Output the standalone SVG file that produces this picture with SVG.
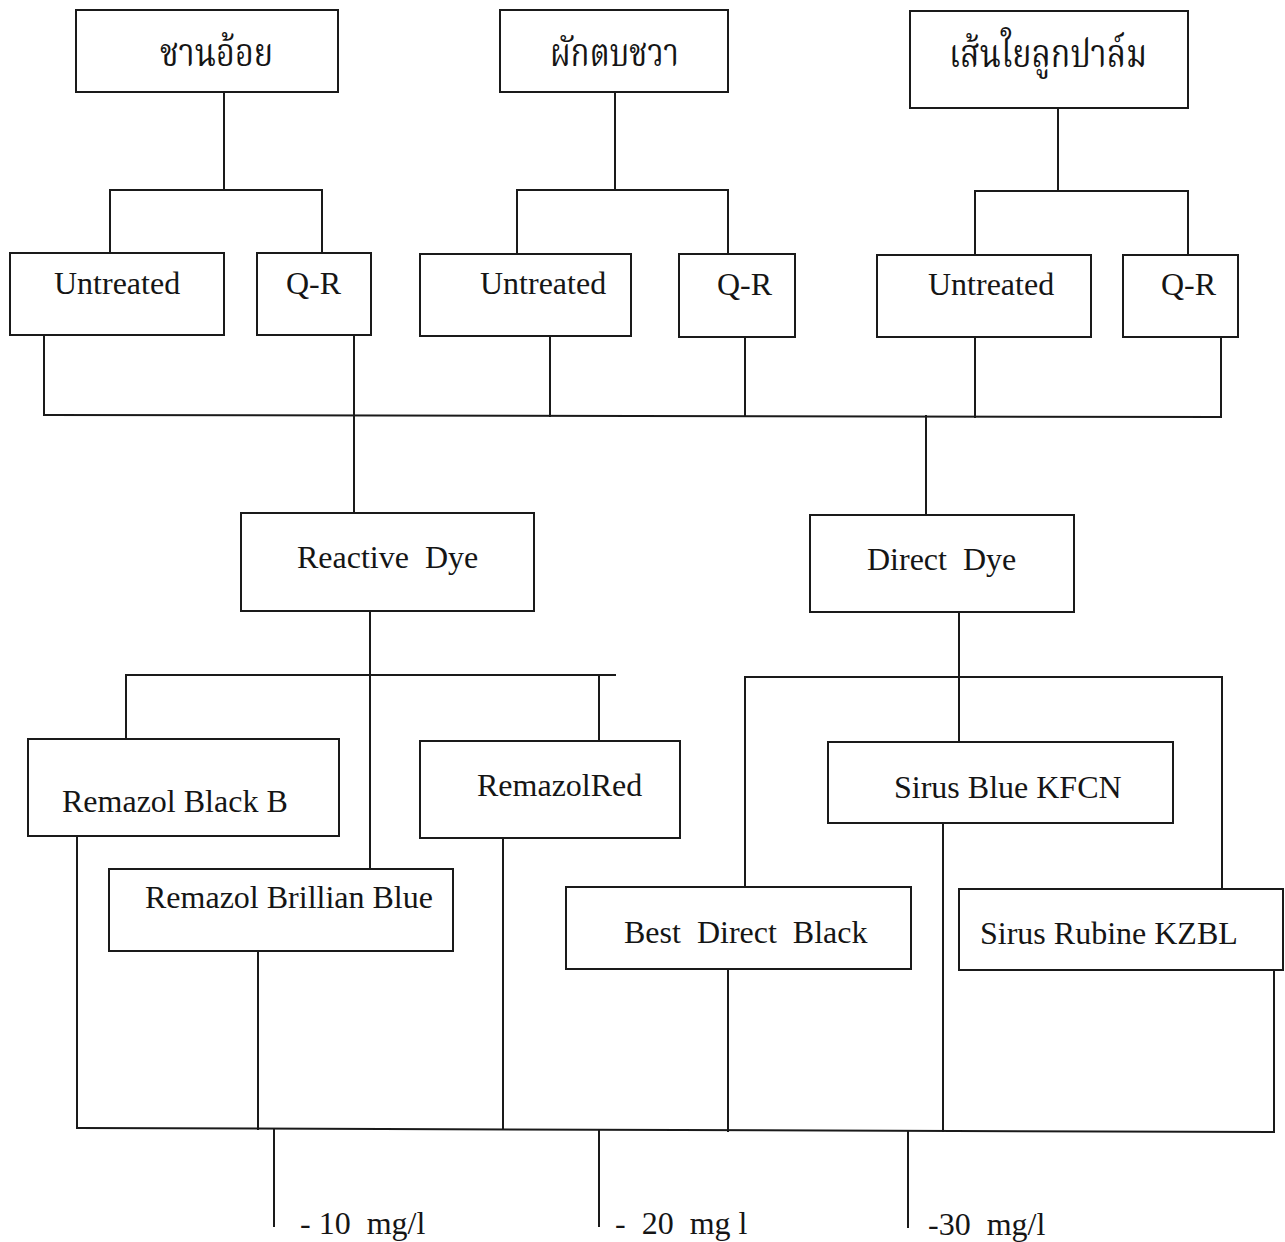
<svg xmlns="http://www.w3.org/2000/svg" width="1285" height="1242" viewBox="0 0 1285 1242">
<style>
.bg{fill:#ffffff}
.box{fill:none;stroke:#1a1a1a;stroke-width:2}
.ln{fill:none;stroke:#1a1a1a;stroke-width:2;stroke-linecap:square}
.t{font-family:"Liberation Serif","Times New Roman",serif;font-size:32px;fill:#151515}
.th{font-family:"Noto Serif Thai","Noto Sans Thai","Norasi","Laksaman","Garuda","Loma","Liberation Serif",serif;font-size:40px;fill:#151515}
</style>
<rect class="bg" x="0" y="0" width="1285" height="1242"/>

<g id="connectors">
<path class="ln" d="M224 92V190M110 253V190H322V253"/>
<path class="ln" d="M615 92V190M517 254V190H728V254"/>
<path class="ln" d="M1058 108V191M975 255V191H1188V255"/>
<path class="ln" d="M44 335V415M354 335V415M550 336V416M745 337V416M975 337V417M1221 337V417"/>
<path class="ln" d="M44 415L1221 417"/>
<path class="ln" d="M354 415V513"/>
<path class="ln" d="M926 416V515"/>
<path class="ln" d="M370 611V869"/>
<path class="ln" d="M126 739V675H615M599 675V741"/>
<path class="ln" d="M959 612V742"/>
<path class="ln" d="M745 887V677H1222V889"/>
<path class="ln" d="M77 836V1128M258 951V1129M503 838V1129M728 969V1131M943 823V1131M1274 970V1132"/>
<path class="ln" d="M77 1128L1274 1132"/>
<path class="ln" d="M274 1129V1226M599 1130V1226M908 1131V1227"/>
</g>

<g id="n-chanoi"><rect class="box" x="76" y="10" width="262" height="82"/><text class="th" x="160" y="66" textLength="113" lengthAdjust="spacingAndGlyphs">ชานอ้อย</text></g>
<g id="n-phaktop"><rect class="box" x="500" y="10" width="228" height="82"/><text class="th" x="550" y="66" textLength="129" lengthAdjust="spacingAndGlyphs">ผักตบชวา</text></g>
<g id="n-palm"><rect class="box" x="910" y="11" width="278" height="97"/><text class="th" x="949" y="67" textLength="198" lengthAdjust="spacingAndGlyphs">เส้นใยลูกปาล์ม</text></g>

<g id="n-untreated1"><rect class="box" x="10" y="253" width="214" height="82"/><text class="t" x="54" y="294">Untreated</text></g>
<g id="n-qr1"><rect class="box" x="257" y="253" width="114" height="82"/><text class="t" x="286" y="294">Q-R</text></g>
<g id="n-untreated2"><rect class="box" x="420" y="254" width="211" height="82"/><text class="t" x="480" y="294">Untreated</text></g>
<g id="n-qr2"><rect class="box" x="679" y="254" width="116" height="83"/><text class="t" x="717" y="295">Q-R</text></g>
<g id="n-untreated3"><rect class="box" x="877" y="255" width="214" height="82"/><text class="t" x="928" y="295">Untreated</text></g>
<g id="n-qr3"><rect class="box" x="1123" y="255" width="115" height="82"/><text class="t" x="1161" y="295">Q-R</text></g>

<g id="n-reactive"><rect class="box" x="241" y="513" width="293" height="98"/><text class="t" x="297" y="568" xml:space="preserve">Reactive  Dye</text></g>
<g id="n-direct"><rect class="box" x="810" y="515" width="264" height="97"/><text class="t" x="867" y="570" xml:space="preserve">Direct  Dye</text></g>

<g id="n-rbb"><rect class="box" x="28" y="739" width="311" height="97"/><text class="t" x="62" y="812">Remazol Black B</text></g>
<g id="n-rred"><rect class="box" x="420" y="741" width="260" height="97"/><text class="t" x="477" y="796">RemazolRed</text></g>
<g id="n-rblue"><rect class="box" x="109" y="869" width="344" height="82"/><text class="t" x="145" y="908">Remazol Brillian Blue</text></g>
<g id="n-sblue"><rect class="box" x="828" y="742" width="345" height="81"/><text class="t" x="894" y="798">Sirus Blue KFCN</text></g>
<g id="n-bdb"><rect class="box" x="566" y="887" width="345" height="82"/><text class="t" x="624" y="943" xml:space="preserve">Best  Direct  Black</text></g>
<g id="n-srub"><rect class="box" x="959" y="889" width="324" height="81"/><text class="t" x="980" y="944">Sirus Rubine KZBL</text></g>

<g id="labels">
<text class="t" x="300" y="1234" xml:space="preserve">- 10  mg/l</text>
<text class="t" x="615" y="1234" xml:space="preserve">-  20  mg l</text>
<text class="t" x="928" y="1235" xml:space="preserve">-30  mg/l</text>
</g>
</svg>
